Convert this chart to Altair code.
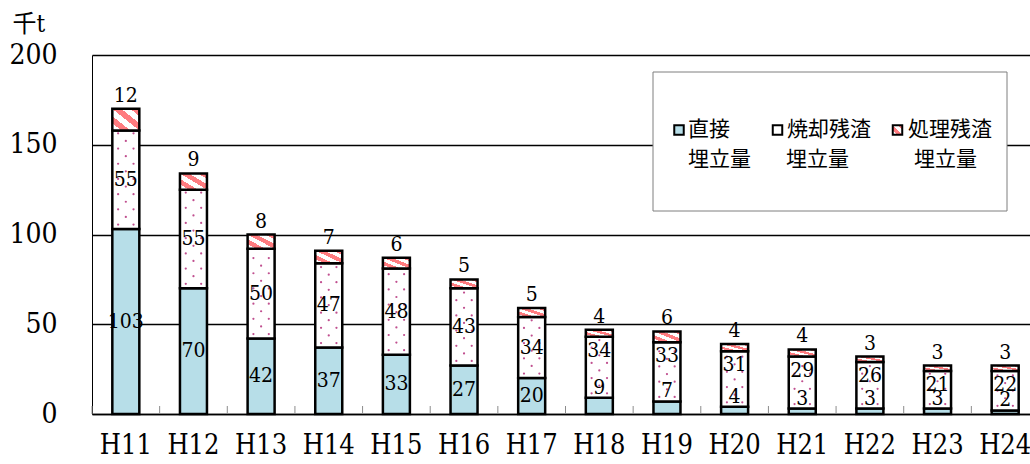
import altair as alt
import pandas as pd

# Landfill amounts (thousand tonnes) by fiscal year
years = ["H11", "H12", "H13", "H14", "H15", "H16", "H17",
         "H18", "H19", "H20", "H21", "H22", "H23", "H24"]
direct = [103, 70, 42, 37, 33, 27, 20, 9, 7, 4, 3, 3, 3, 2]        # 直接埋立量
ash = [55, 55, 50, 47, 48, 43, 34, 34, 33, 31, 29, 26, 21, 22]     # 焼却残渣埋立量
residue = [12, 9, 8, 7, 6, 5, 5, 4, 6, 4, 4, 3, 3, 3]              # 処理残渣埋立量

legend_line1 = ["直接", "焼却残渣", "処理残渣"]
legend_line2 = ["埋立量", "埋立量", "埋立量"]

# ---- layout / style ----
W, H = 938, 359
BAND_RANGE = [0, 947]
Y_MAX = 200
BAR = 27
NUM_FONT = "DejaVu Serif Condensed, DejaVu Serif, serif"
JP_FONT = "Noto Sans CJK JP"
BLUE = "#b7dee8"
PINK = "#ff7c80"
DOT = "#c04f8f"

df = pd.DataFrame({"year": years, "direct": direct, "ash": ash, "residue": residue})
df["b1"] = df["direct"]
df["b2"] = df["direct"] + df["ash"]
df["b3"] = df["b2"] + df["residue"]

# dotted texture for the 焼却残渣 segments (staggered lattice)
px_per_unit = H / Y_MAX
row_step = 7.6 / px_per_unit
dot_rows = []
for _, r in df.iterrows():
    y = r["b1"] + row_step * 0.6
    k = 0
    while y < r["b2"] - row_step * 0.3:
        dot_rows.append({"year": r["year"], "y": y, "row": k % 2})
        y += row_step
        k += 1
dots = pd.DataFrame(dot_rows)

# diagonal stripe fill for the 処理残渣 segments
def stripes(n):
    stops = []
    for j in range(n):
        a, b, c = j / n, (j + 0.5) / n, (j + 1) / n
        stops += [alt.GradientStop(color="white", offset=a),
                  alt.GradientStop(color="white", offset=b),
                  alt.GradientStop(color=PINK, offset=b),
                  alt.GradientStop(color=PINK, offset=c)]
    return alt.LinearGradient(gradient="linear", x1=0, y1=1, x2=1, y2=0, stops=stops)

x_scale = alt.Scale(range=BAND_RANGE, paddingInner=0, paddingOuter=0)
x_axis = alt.Axis(title=None, labelAngle=0, labelFont=NUM_FONT, labelFontSize=27,
                  labelColor="black", labelPadding=31, labelBaseline="middle",
                  ticks=False, tickSize=0, domainColor="black", domainWidth=1.5,
                  grid=False)
y_scale = alt.Scale(domain=[0, Y_MAX], nice=False)
y_axis = alt.Axis(values=[0, 50, 100, 150, 200], grid=True, gridColor="black",
                  gridWidth=1.7, domainColor="black", domainWidth=1, ticks=False,
                  tickSize=0, labelFont=NUM_FONT, labelFontSize=28, labelColor="black",
                  labelPadding=35, title="千t", titleAngle=0, titleAlign="left",
                  titleBaseline="middle", titleX=-80, titleY=-31,
                  titleFont=NUM_FONT + ", " + JP_FONT, titleFontSize=24,
                  titleFontWeight="normal", titleColor="black")


def X(**kw):
    return alt.X("year:N", sort=years, scale=x_scale, axis=x_axis, **kw)


def Y(field):
    return alt.Y(field, type="quantitative", scale=y_scale, axis=y_axis, title="千t")


base = alt.Chart(df)

bar_style = dict(size=BAR, stroke="black", strokeWidth=2.5)
blue_bars = base.mark_bar(fill=BLUE, **bar_style).encode(
    x=X(), y=Y("b1"), y2=alt.Y2("zero:Q")).transform_calculate(zero="0")
ash_bars = base.mark_bar(fill="white", **bar_style).encode(
    x=X(), y=Y("b2"), y2=alt.Y2("b1:Q"))
res_bars = base.mark_bar(fill=stripes(3), **bar_style).encode(
    x=X(), y=Y("b3"), y2=alt.Y2("b2:Q"))

dot_base = alt.Chart(dots)
dots_l = dot_base.transform_filter("datum.row == 0").mark_circle(
    size=5, color=DOT, opacity=1, xOffset=-7.7).encode(x=X(), y=Y("y"))
dots_r = dot_base.transform_filter("datum.row == 0").mark_circle(
    size=5, color=DOT, opacity=1, xOffset=7.7).encode(x=X(), y=Y("y"))
dots_c = dot_base.transform_filter("datum.row == 1").mark_circle(
    size=5, color=DOT, opacity=1).encode(x=X(), y=Y("y"))

# x-axis ticks at category boundaries, pointing up
ticks = base.mark_rule(color="#8c8c8c", strokeWidth=1).encode(
    x=X(bandPosition=0), y=alt.value(H), y2=alt.value(H - 8))

txt = dict(font=NUM_FONT, fontSize=21, color="black", baseline="middle", align="center")
top_labels = base.mark_text(dy=-13, **txt).encode(x=X(), y=Y("b3"), text="residue:Q")
ash_big = base.transform_filter("datum.direct >= 15").transform_calculate(
    ym="(datum.b1 + datum.b2) / 2").mark_text(**txt).encode(
    x=X(), y=Y("ym"), text="ash:Q")
ash_small = base.transform_filter("datum.direct < 15").mark_text(dy=14, **txt).encode(
    x=X(), y=Y("b2"), text="ash:Q")
dir_big = base.transform_filter("datum.direct >= 15").transform_calculate(
    ym="datum.b1 / 2").mark_text(**txt).encode(x=X(), y=Y("ym"), text="direct:Q")
dir_small = base.transform_filter("datum.direct < 15").mark_text(dy=-10, **txt).encode(
    x=X(), y=Y("b1"), text="direct:Q")

# legend box
box = alt.Chart(pd.DataFrame({"k": [0]})).mark_rect(
    fill="white", stroke="#7f7f7f", strokeWidth=1).encode(
    x=alt.value(561), x2=alt.value(915), y=alt.value(17), y2=alt.value(156))

leg = pd.DataFrame({
    "l1": legend_line1, "l2": legend_line2,
    "sx": [587, 685.5, 805.5], "tx": [596, 695, 816], "tx2": [596, 694, 822],
    "fill": [BLUE, "white", "white"],
})
leg_chart = alt.Chart(leg)
sym_style = dict(size=90, stroke="black", strokeWidth=2, opacity=1, shape="square")
leg_sym = leg_chart.transform_filter("datum.l1 != '処理残渣'").mark_point(
    filled=True, **sym_style).encode(
    x=alt.X("sx:Q", scale=None), y=alt.value(75), fill=alt.Fill("fill:N", scale=None))
leg_sym3 = leg_chart.transform_filter("datum.l1 == '処理残渣'").mark_point(
    filled=True, fill=stripes(2), **sym_style).encode(
    x=alt.X("sx:Q", scale=None), y=alt.value(75))
ltxt = dict(font=JP_FONT, fontSize=21, color="black", align="left", baseline="middle")
leg_t1 = leg_chart.mark_text(**ltxt).encode(
    x=alt.X("tx:Q", scale=None), y=alt.value(75), text="l1:N")
leg_t2 = leg_chart.mark_text(**ltxt).encode(
    x=alt.X("tx2:Q", scale=None), y=alt.value(105), text="l2:N")

chart = alt.layer(
    ticks, blue_bars, ash_bars, res_bars, dots_l, dots_r, dots_c,
    top_labels, ash_big, ash_small, dir_big, dir_small,
    box, leg_sym, leg_sym3, leg_t1, leg_t2,
).properties(
    width=W, height=H,
    autosize=alt.AutoSizeParams(type="none"),
    padding={"left": 92, "top": 55, "right": 0, "bottom": 50},
    background="white",
).configure_view(stroke=None)

chart.save("out.html", embed_options={"renderer": "svg", "actions": False})
